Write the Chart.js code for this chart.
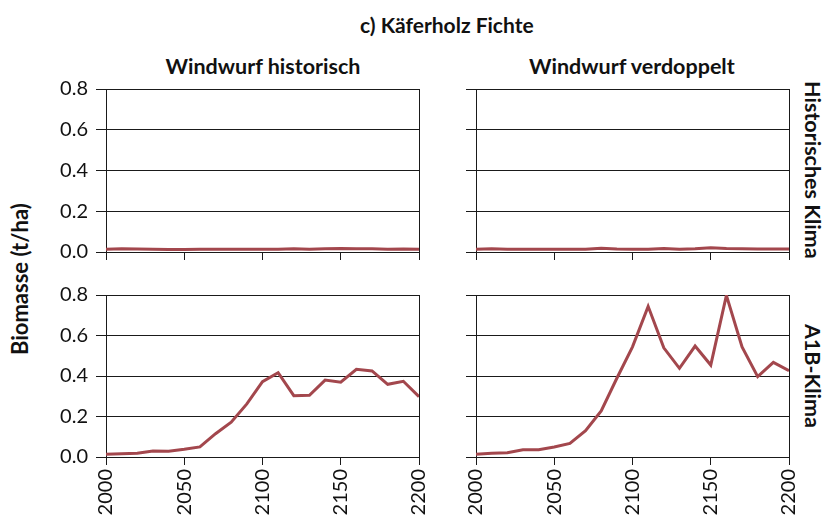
<!DOCTYPE html>
<html>
<head>
<meta charset="utf-8">
<script src="https://cdn.jsdelivr.net/npm/chart.js@4/dist/chart.umd.min.js"></script>
<style>
  html, body { margin: 0; padding: 0; background: #fff; }
  #wrap { position: relative; width: 825px; height: 521px; overflow: hidden; font-family: Lato, "Open Sans", sans-serif; color: #111; }
  canvas { position: absolute; }
  .t { position: absolute; font-weight: bold; white-space: nowrap; transform-origin: center center; line-height: 1.2; }
</style>
</head>
<body>
<div id="wrap">
  <div class="t" id="mainTitle" style="font-size:21px;"></div>
  <div class="t" id="colTitle1" style="font-size:21.5px;"></div>
  <div class="t" id="colTitle2" style="font-size:21.5px;"></div>
  <div class="t" id="rowTitle1" style="font-size:21.5px;"></div>
  <div class="t" id="rowTitle2" style="font-size:21.5px;"></div>
  <div class="t" id="yTitle" style="font-size:22px;"></div>
  <canvas id="c1" width="440" height="185" style="left:0;top:80px;width:440px;height:185px;"></canvas>
  <canvas id="c2" width="370" height="185" style="left:440px;top:80px;width:370px;height:185px;"></canvas>
  <canvas id="c3" width="440" height="236" style="left:0;top:285px;width:440px;height:236px;"></canvas>
  <canvas id="c4" width="370" height="236" style="left:440px;top:285px;width:370px;height:236px;"></canvas>
</div>
<script>
// ---- data ----
const years = [2000,2010,2020,2030,2040,2050,2060,2070,2080,2090,2100,2110,2120,2130,2140,2150,2160,2170,2180,2190,2200];
const histClimaWindHist = [0.014,0.016,0.015,0.013,0.012,0.012,0.013,0.013,0.014,0.013,0.013,0.014,0.016,0.013,0.016,0.017,0.016,0.016,0.014,0.015,0.014];
const histClimaWindDoppelt = [0.013,0.016,0.014,0.013,0.013,0.013,0.014,0.014,0.018,0.015,0.014,0.013,0.017,0.014,0.016,0.021,0.017,0.016,0.015,0.015,0.015];
const a1bWindHist = [0.013,0.016,0.018,0.030,0.028,0.038,0.050,0.115,0.172,0.262,0.372,0.416,0.303,0.305,0.380,0.369,0.433,0.425,0.359,0.374,0.298];
const a1bWindDoppelt = [0.013,0.018,0.021,0.036,0.036,0.049,0.067,0.130,0.228,0.389,0.544,0.744,0.539,0.438,0.548,0.454,0.798,0.544,0.397,0.467,0.426];
const yTicks = [0.0,0.2,0.4,0.6,0.8];
const xTicks = [2000,2050,2100,2150,2200];
const mainTitle = "c) Käferholz Fichte";
const colTitles = ["Windwurf historisch","Windwurf verdoppelt"];
const rowTitles = ["Historisches Klima","A1B-Klima"];
const yAxisTitle = "Biomasse (t/ha)";

// ---- titles placement ----
function place(id, text, cx, cy, rot) {
  const el = document.getElementById(id);
  el.textContent = text;
  const w = el.offsetWidth, h = el.offsetHeight;
  el.style.left = (cx - w/2) + 'px';
  el.style.top = (cy - h/2) + 'px';
  if (rot) el.style.transform = 'rotate(' + rot + 'deg)';
}
function placeAll() {
  place('mainTitle', mainTitle, 447, 24, 0);
  place('colTitle1', colTitles[0], 263, 67, 0);
  place('colTitle2', colTitles[1], 632, 67, 0);
  place('rowTitle1', rowTitles[0], 812, 170, 90);
  place('rowTitle2', rowTitles[1], 812, 376, 90);
  place('yTitle', yAxisTitle, 20, 279, -90);
}
placeAll();

// ---- charts ----
const LINE = '#a3474d';
const GRID = '#1a1a1a';
const FONT = { family: 'Lato, "Open Sans", sans-serif', size: 20 };

function makeChart(id, values, opts) {
  const pts = years.map((y, i) => ({ x: y, y: values[i] }));
  return new Chart(document.getElementById(id), {
    type: 'line',
    data: { datasets: [{ data: pts, borderColor: LINE, borderWidth: 3, pointRadius: 0, tension: 0, fill: false }] },
    options: {
      responsive: false,
      animation: false,
      events: [],
      layout: { padding: { top: opts.padTop, right: 21, left: 0, bottom: 0 } },
      plugins: { legend: { display: false }, tooltip: { enabled: false }, title: { display: false } },
      scales: {
        x: {
          type: 'linear', min: 2000, max: 2200,
          afterBuildTicks: s => { s.ticks = xTicks.map(v => ({ value: v })); },
          afterFit: s => { s.height = opts.xHeight; s.paddingLeft = 0; s.paddingRight = 0; s.paddingTop = 0; s.paddingBottom = 0; },
          grid: { drawOnChartArea: false, drawTicks: true, tickLength: 8, color: GRID, lineWidth: 1 },
          border: { display: true, color: GRID, width: 1 },
          ticks: {
            display: opts.xLabels, autoSkip: false, minRotation: 90, maxRotation: 90,
            color: '#111', font: FONT, padding: 4,
            callback: v => String(v)
          }
        },
        y: {
          type: 'linear', min: 0, max: 0.8,
          afterBuildTicks: s => { s.ticks = yTicks.map(v => ({ value: v })); },
          afterFit: s => { s.width = opts.yWidth; s.paddingTop = 0; s.paddingBottom = 0; s.paddingLeft = 0; s.paddingRight = 0; },
          grid: { drawOnChartArea: true, drawTicks: true, tickLength: 10, color: GRID, lineWidth: 1 },
          border: { display: true, color: GRID, width: 1 },
          ticks: {
            color: '#111', font: FONT, padding: 8,
            callback: v => opts.yLabels ? Number(v).toFixed(1) : ''
          }
        },
        y2: {
          type: 'linear', position: 'right', min: 0, max: 0.8,
          afterFit: s => { s.width = 0; s.paddingTop = 0; s.paddingBottom = 0; },
          grid: { display: false },
          border: { display: true, color: GRID, width: 1 },
          ticks: { display: false }
        }
      }
    }
  });
}

makeChart('c1', histClimaWindHist, { padTop: 9, xHeight: 13, yWidth: 106, yLabels: true, xLabels: false });
makeChart('c2', histClimaWindDoppelt, { padTop: 9, xHeight: 13, yWidth: 36, yLabels: false, xLabels: false });
makeChart('c3', a1bWindHist, { padTop: 10, xHeight: 64, yWidth: 106, yLabels: true, xLabels: true });
makeChart('c4', a1bWindDoppelt, { padTop: 10, xHeight: 64, yWidth: 36, yLabels: false, xLabels: true });
</script>
</body>
</html>
